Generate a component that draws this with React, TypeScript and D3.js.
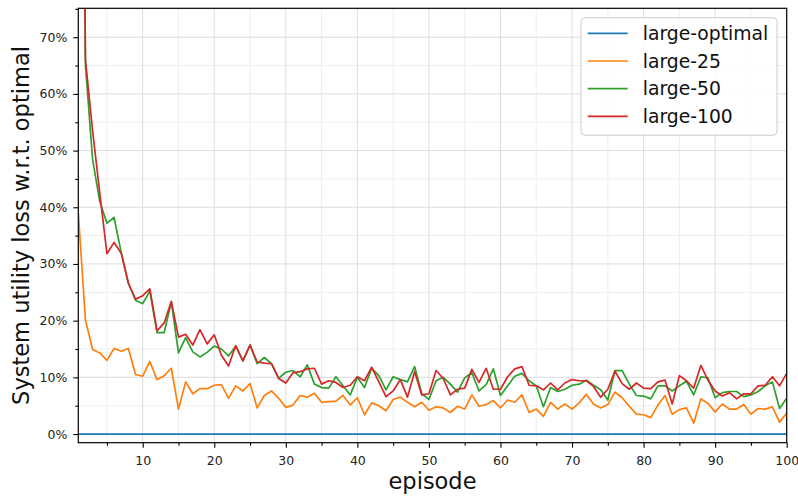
import { useEffect, useRef } from 'react';
import { axisBottom, axisLeft, line, range, scaleLinear, select } from 'd3';

// episodes on the x axis
const episodes = range(1, 101);

// loss w.r.t. optimal, in percent
const largeOptimal = [
  0, 0, 0, 0, 0, 0, 0, 0, 0, 0, 0, 0, 0, 0, 0, 0, 0, 0, 0, 0,
  0, 0, 0, 0, 0, 0, 0, 0, 0, 0, 0, 0, 0, 0, 0, 0, 0, 0, 0, 0,
  0, 0, 0, 0, 0, 0, 0, 0, 0, 0, 0, 0, 0, 0, 0, 0, 0, 0, 0, 0,
  0, 0, 0, 0, 0, 0, 0, 0, 0, 0, 0, 0, 0, 0, 0, 0, 0, 0, 0, 0,
  0, 0, 0, 0, 0, 0, 0, 0, 0, 0, 0, 0, 0, 0, 0, 0, 0, 0, 0, 0,
];
const large25 = [
  39.0, 20.1, 14.9, 14.3, 13.0, 15.1, 14.6, 15.1, 10.5, 10.2,
  12.8, 9.6, 10.3, 11.6, 4.4, 9.2, 7.1, 8.0, 8.0, 8.6,
  8.7, 6.3, 8.5, 7.6, 8.9, 4.6, 6.8, 7.6, 6.3, 4.7,
  5.1, 6.8, 6.5, 7.2, 5.6, 5.7, 5.8, 6.8, 5.1, 6.4,
  3.4, 5.5, 5.0, 4.1, 6.1, 6.5, 5.6, 4.8, 5.6, 4.2,
  4.8, 4.6, 3.8, 4.9, 4.4, 6.9, 4.9, 5.2, 5.9, 4.6,
  6.0, 5.6, 6.9, 3.8, 4.4, 3.1, 5.6, 4.4, 5.3, 4.4,
  5.5, 7.0, 5.3, 4.6, 5.2, 7.4, 6.4, 4.9, 3.5, 3.4,
  2.9, 5.1, 6.8, 3.5, 4.3, 4.6, 1.9, 6.2, 5.4, 3.9,
  5.3, 4.4, 4.4, 5.2, 3.5, 4.5, 4.4, 4.8, 2.1, 3.7,
];
const large50 = [
  200, 65, 48.4, 41.0, 37.2, 38.2, 32.0, 26.6, 23.6, 23.0,
  25.2, 17.9, 17.9, 23.3, 14.3, 17.0, 14.5, 13.6, 14.4, 15.5,
  15.0, 13.8, 15.5, 12.9, 15.7, 12.4, 13.5, 12.4, 9.8, 10.9,
  11.2, 10.1, 12.2, 8.8, 8.2, 8.1, 10.1, 8.5, 6.9, 10.0,
  8.2, 11.6, 10.3, 7.8, 10.1, 9.6, 9.2, 11.9, 7.1, 6.1,
  9.4, 10.0, 8.8, 7.4, 9.9, 10.8, 7.6, 8.7, 11.5, 6.8,
  8.5, 10.2, 10.7, 9.4, 8.5, 4.8, 8.2, 7.5, 7.9, 8.6,
  8.8, 9.5, 8.6, 7.8, 6.0, 11.2, 11.2, 8.8, 6.8, 6.7,
  6.2, 8.5, 8.5, 7.6, 8.5, 9.3, 6.9, 10.1, 9.9, 6.4,
  7.3, 7.5, 7.5, 6.6, 6.9, 7.5, 8.5, 9.2, 4.5, 6.3,
];
const large100 = [
  210, 66, 53.5, 42.5, 31.8, 33.8, 31.9, 26.6, 23.8, 24.4,
  25.6, 18.2, 19.6, 23.4, 17.1, 17.6, 15.7, 18.4, 15.9, 17.5,
  13.9, 12.0, 15.6, 12.9, 15.7, 12.7, 12.5, 12.4, 9.8, 9.0,
  10.8, 11.0, 11.5, 11.6, 8.8, 9.4, 9.1, 8.2, 8.6, 10.1,
  9.4, 11.8, 9.2, 6.6, 7.6, 9.6, 6.5, 11.0, 6.9, 7.1,
  11.2, 9.8, 6.9, 7.9, 8.1, 11.4, 9.1, 11.6, 7.9, 7.9,
  10.1, 11.5, 11.9, 8.6, 8.5, 7.8, 9.0, 7.8, 9.0, 9.6,
  9.4, 9.4, 8.4, 6.5, 7.9, 11.1, 8.9, 7.9, 9.0, 8.1,
  8.0, 9.2, 9.5, 5.3, 10.3, 9.4, 8.1, 12.1, 9.5, 7.6,
  6.7, 7.3, 6.2, 7.1, 7.1, 8.5, 8.6, 10.1, 8.5, 10.7,
];

const seriesNames = ['large-optimal', 'large-25', 'large-50', 'large-100'];
const seriesValues = [largeOptimal, large25, large50, large100];
const colorList = ['#1f77b4', '#ff7f0e', '#2ca02c', '#d62728'];

const xMajorTicks = [10, 20, 30, 40, 50, 60, 70, 80, 90, 100];
const xMinorTicks = [5, 15, 25, 35, 45, 55, 65, 75, 85, 95];
const yMajorTicks = [0, 10, 20, 30, 40, 50, 60, 70];
const yMinorTicks = [5, 15, 25, 35, 45, 55, 65, 75];

const width = 798;
const height = 497;
const plot = { left: 78.3, right: 786.7, top: 8.3, bottom: 442.7 };
const font = '"DejaVu Sans", sans-serif';

const App = () => {
  const svgRef = useRef<SVGSVGElement>(null);

  useEffect(() => {
    document.body.style.margin = '0';
    const svg = select(svgRef.current);
    svg.selectAll('*').remove();

    const x = scaleLinear().domain([1, 100]).range([plot.left, plot.right]);
    const y = scaleLinear().domain([-1.53, 75.1]).range([plot.bottom, plot.top]);

    svg
      .append('defs')
      .append('clipPath')
      .attr('id', 'plot-clip')
      .append('rect')
      .attr('x', plot.left)
      .attr('y', plot.top)
      .attr('width', plot.right - plot.left)
      .attr('height', plot.bottom - plot.top);

    // grid, minor first so major sits on top
    const grid = svg.append('g');
    grid
      .append('g')
      .selectAll('line')
      .data(xMinorTicks)
      .join('line')
      .attr('x1', (d) => x(d))
      .attr('x2', (d) => x(d))
      .attr('y1', plot.top)
      .attr('y2', plot.bottom)
      .attr('stroke', '#eeeeee')
      .attr('stroke-width', 1);
    grid
      .append('g')
      .selectAll('line')
      .data(yMinorTicks)
      .join('line')
      .attr('x1', plot.left)
      .attr('x2', plot.right)
      .attr('y1', (d) => y(d))
      .attr('y2', (d) => y(d))
      .attr('stroke', '#eeeeee')
      .attr('stroke-width', 1);
    grid
      .append('g')
      .selectAll('line')
      .data(xMajorTicks)
      .join('line')
      .attr('x1', (d) => x(d))
      .attr('x2', (d) => x(d))
      .attr('y1', plot.top)
      .attr('y2', plot.bottom)
      .attr('stroke', '#dddddd')
      .attr('stroke-width', 1);
    grid
      .append('g')
      .selectAll('line')
      .data(yMajorTicks)
      .join('line')
      .attr('x1', plot.left)
      .attr('x2', plot.right)
      .attr('y1', (d) => y(d))
      .attr('y2', (d) => y(d))
      .attr('stroke', '#dddddd')
      .attr('stroke-width', 1);

    const lineGen = line<number>()
      .x((d, i) => x(episodes[i]))
      .y((d) => y(d));

    svg
      .append('g')
      .attr('clip-path', 'url(#plot-clip)')
      .selectAll('path')
      .data(seriesValues)
      .join('path')
      .attr('d', (d) => lineGen(d))
      .attr('fill', 'none')
      .attr('stroke', (d, i) => colorList[i])
      .attr('stroke-width', 1.7)
      .attr('stroke-linejoin', 'round');

    // axes
    const styleAxis = (g: any) => {
      g.select('.domain').remove();
      g.selectAll('line').attr('stroke', '#000').attr('stroke-width', 1.1);
      g.selectAll('text')
        .attr('font-family', font)
        .attr('font-size', 12.5)
        .attr('fill', '#222');
    };

    svg
      .append('g')
      .attr('transform', `translate(0,${plot.bottom})`)
      .call(axisBottom(x).tickValues(xMajorTicks).tickSize(5).tickPadding(8))
      .call(styleAxis);
    svg
      .append('g')
      .attr('transform', `translate(0,${plot.bottom})`)
      .call(axisBottom(x).tickValues(xMinorTicks).tickSize(3).tickFormat(() => ''))
      .call(styleAxis);
    svg
      .append('g')
      .attr('transform', `translate(${plot.left},0)`)
      .call(
        axisLeft(y)
          .tickValues(yMajorTicks)
          .tickSize(5)
          .tickPadding(6)
          .tickFormat((d) => `${d}%`),
      )
      .call(styleAxis);
    svg
      .append('g')
      .attr('transform', `translate(${plot.left},0)`)
      .call(axisLeft(y).tickValues(yMinorTicks).tickSize(3).tickFormat(() => ''))
      .call(styleAxis);

    // spines
    svg
      .append('rect')
      .attr('x', plot.left)
      .attr('y', plot.top)
      .attr('width', plot.right - plot.left)
      .attr('height', plot.bottom - plot.top)
      .attr('fill', 'none')
      .attr('stroke', '#000')
      .attr('stroke-width', 1.2);

    svg
      .append('text')
      .attr('x', (plot.left + plot.right) / 2)
      .attr('y', 489)
      .attr('text-anchor', 'middle')
      .attr('font-family', font)
      .attr('font-size', 22.5)
      .attr('fill', '#111')
      .text('episode');

    svg
      .append('text')
      .attr('transform', `translate(29,${(plot.top + plot.bottom) / 2}) rotate(-90)`)
      .attr('text-anchor', 'middle')
      .attr('font-family', font)
      .attr('font-size', 22.5)
      .attr('fill', '#111')
      .text('System utility loss w.r.t. optimal');

    // legend
    const legend = svg.append('g');
    legend
      .append('rect')
      .attr('x', 581)
      .attr('y', 17.7)
      .attr('width', 196)
      .attr('height', 117.5)
      .attr('rx', 4)
      .attr('fill', 'white')
      .attr('fill-opacity', 0.8)
      .attr('stroke', '#cccccc')
      .attr('stroke-width', 1);
    const rows = legend
      .selectAll('g')
      .data(seriesNames)
      .join('g')
      .attr('transform', (d, i) => `translate(0,${33.3 + i * 27.7})`);
    rows
      .append('line')
      .attr('x1', 587.7)
      .attr('x2', 627.7)
      .attr('stroke', (d, i) => colorList[i])
      .attr('stroke-width', 1.7);
    rows
      .append('text')
      .attr('x', 642.7)
      .attr('y', 6.7)
      .attr('font-family', font)
      .attr('font-size', 18.75)
      .attr('fill', '#111')
      .text((d) => d);
  }, []);

  return <svg ref={svgRef} width={width} height={height} style={{ display: 'block' }} />;
};

export default App;
